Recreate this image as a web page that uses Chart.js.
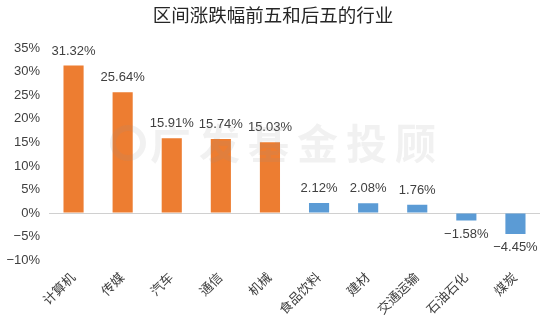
<!DOCTYPE html>
<html>
<head>
<meta charset="utf-8">
<script src="https://cdn.jsdelivr.net/npm/chart.js@4/dist/chart.umd.min.js"></script>
<style>
  html, body { margin: 0; padding: 0; background: #fff; }
  #wrap { width: 550px; height: 324px; position: relative; }
</style>
</head>
<body>
<div id="wrap"><canvas id="industryChart"></canvas></div>
<script>
const FONT = '"Liberation Sans", "Noto Sans CJK SC", Arial, sans-serif';

// industries, top five then bottom five
const industries = ['计算机', '传媒', '汽车', '通信', '机械', '食品饮料', '建材', '交通运输', '石油石化', '煤炭'];
const changePct = [31.32, 25.64, 15.91, 15.74, 15.03, 2.12, 2.08, 1.76, -1.58, -4.45];
const barColors = ['#ED7D31', '#ED7D31', '#ED7D31', '#ED7D31', '#ED7D31', '#5B9BD5', '#5B9BD5', '#5B9BD5', '#5B9BD5', '#5B9BD5'];
const yTicks = [-10, -5, 0, 5, 10, 15, 20, 25, 30, 35];

const fmtPct = v => (v < 0 ? '\u2212' + Math.abs(v) : String(v)) + '%';

// value labels above / below each bar
const valueLabels = {
    id: 'valueLabels',
    afterDatasetsDraw(chart) {
        const ctx = chart.ctx;
        const meta = chart.getDatasetMeta(0);
        ctx.save();
        ctx.font = '13px ' + FONT;
        ctx.fillStyle = '#404040';
        ctx.textAlign = 'center';
        meta.data.forEach((bar, i) => {
            const v = changePct[i];
            if (v >= 0) {
                ctx.textBaseline = 'bottom';
                ctx.fillText(v.toFixed(2) + '%', bar.x, bar.y - 8);
            } else {
                ctx.textBaseline = 'top';
                ctx.fillText('\u2212' + Math.abs(v).toFixed(2) + '%', bar.x, bar.y + 7);
            }
        });
        ctx.restore();
    }
};

// faint brand mark across the plot
const watermark = {
    id: 'watermark',
    afterDatasetsDraw(chart) {
        const ctx = chart.ctx;
        ctx.save();
        ctx.fillStyle = 'rgba(150,150,150,0.13)';
        ctx.strokeStyle = 'rgba(150,150,150,0.13)';
        ctx.lineWidth = 6;
        ctx.beginPath();
        ctx.arc(128, 143, 15, 0, Math.PI * 2);
        ctx.stroke();
        ctx.font = 'bold 41px "Noto Sans CJK SC", sans-serif';
        ctx.textBaseline = 'middle';
        ctx.textAlign = 'left';
        const chars = '广发基金投顾';
        for (let i = 0; i < chars.length; i++) {
            ctx.fillText(chars[i], 150 + i * 49, 143);
        }
        ctx.restore();
    }
};

new Chart(document.getElementById('industryChart'), {
    type: 'bar',
    data: {
        labels: industries,
        datasets: [{
            data: changePct,
            backgroundColor: barColors,
            barPercentage: 0.41,
            categoryPercentage: 1
        }]
    },
    options: {
        responsive: true,
        maintainAspectRatio: false,
        animation: false,
        layout: { padding: { left: 6, right: 10, top: 0, bottom: 4 } },
        plugins: {
            legend: { display: false },
            tooltip: { enabled: false },
            title: {
                display: true,
                text: '区间涨跌幅前五和后五的行业',
                color: '#262626',
                font: { family: FONT, size: 18.5, weight: 'normal' },
                padding: { top: 6, bottom: 20 }
            }
        },
        scales: {
            x: {
                grid: { display: false },
                border: { display: false },
                afterFit(axis) {
                    // rotated labels may overhang the plot edges
                    axis.paddingLeft = 0;
                    axis.paddingRight = 0;
                },
                ticks: {
                    color: '#404040',
                    font: { family: FONT, size: 13 },
                    minRotation: 45,
                    maxRotation: 45,
                    padding: 2
                }
            },
            y: {
                min: yTicks[0],
                max: yTicks[yTicks.length - 1],
                afterBuildTicks(axis) {
                    axis.ticks = yTicks.map(v => ({ value: v }));
                },
                afterFit(axis) {
                    axis.width = 43;
                },
                border: { display: false },
                grid: {
                    drawTicks: false,
                    color: c => c.tick.value === 0 ? '#d0d0d0' : 'rgba(0,0,0,0)',
                    lineWidth: 1
                },
                ticks: {
                    color: '#404040',
                    font: { family: FONT, size: 13 },
                    padding: 9,
                    callback: v => fmtPct(v)
                }
            }
        }
    },
    plugins: [valueLabels, watermark]
});
</script>
</body>
</html>
